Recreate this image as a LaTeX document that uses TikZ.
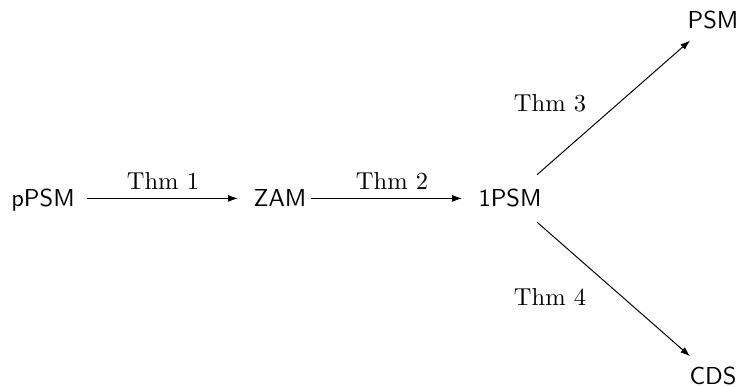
\documentclass[tikz,border=0pt]{standalone}
\usetikzlibrary{arrows.meta}
\begin{document}
\begin{tikzpicture}[x=0.4082pt,y=-0.4082pt,
  state/.style={font=\sffamily, text height=7pt, text depth=0pt,
    inner xsep=3.33pt, inner ysep=6pt, anchor=base},
  goal/.style={state, inner ysep=4.5pt},
  thm/.style={font=\rmfamily},
  link/.style={-{Latex[length=4pt,width=2.8pt]}, line width=0.4pt}]
  \useasboundingbox (0,0) rectangle (741,387);

  % states
  \node[state] (ppsm) at (43,207) {pPSM};
  \node[state] (zam)  at (280,207) {ZAM};
  \node[state] (opsm) at (510,207) {1PSM};
  \node[goal]  (psm)  at (713,29) {PSM};
  \node[goal]  (cds)  at (713,385) {CDS};

  % implications
  \draw[link] ([xshift=1.6pt]ppsm.east) -- ([xshift=-2.9pt]zam.west);
  \draw[link] ([xshift=-1.5pt]zam.east) -- ([xshift=-3.2pt]opsm.west);
  \draw[link] (opsm) -- (psm);
  \draw[link] (opsm) -- (cds);

  % labels
  \node[thm] (t1) at (163,181) {Thm 1};
  \node[thm] (t2) at (392,181) {Thm 2};
  \node[thm] (t3) at (550,103) {Thm 3};
  \node[thm] (t4) at (550,297) {Thm 4};
\end{tikzpicture}
\end{document}
